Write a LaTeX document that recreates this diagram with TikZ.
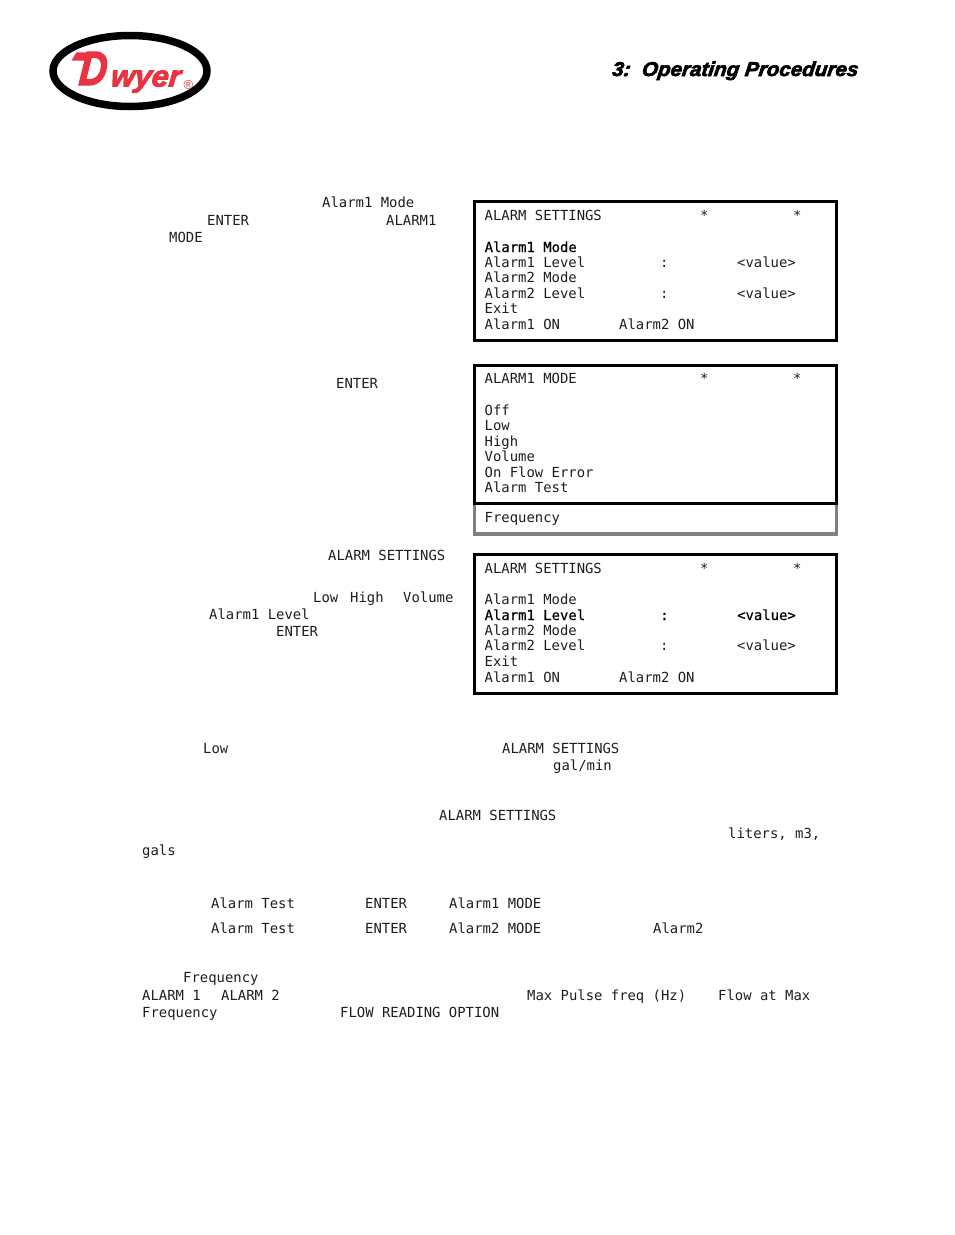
\documentclass[tikz,border=0pt]{standalone}
\usepackage{fontspec}
\setmainfont{Liberation Sans}
\setmonofont{DejaVu Sans Mono}
\newfontfamily\heavyfont[BoldItalicFeatures={FakeBold=3}]{Liberation Sans}
\newfontfamily\lcdheavy[FakeBold=0.5]{DejaVu Sans Mono}
\definecolor{dwyerred}{RGB}{232,52,66}
\definecolor{panelgrey}{RGB}{128,128,128}
\definecolor{lcdink}{RGB}{30,30,30}
\tikzset{
    lcd/.style={anchor=base west, inner sep=0pt, text=lcdink, font=\fontsize{13.9}{15}\selectfont\ttfamily},
    lcdbold/.style={lcd, text=black, font=\fontsize{13.9}{15}\selectfont\lcdheavy},
    panel/.style={draw=black, line width=3.5pt},
    logotext/.style={anchor=base west, inner sep=0pt, text=dwyerred, font=\heavyfont\bfseries\itshape}
}

\begin{document}
\begin{tikzpicture}[x=1pt, y=-1pt]
    \useasboundingbox (0, 0) rectangle (954, 1235);

    % logo and page heading
    \draw[black, line width=7.5pt] (130, 71) ellipse [x radius=77, y radius=35.5];
    \fill[dwyerred] (76.5, 52.3) -- (94, 52.3) -- (90, 60.5) -- (71.5, 60.5) -- cycle;
    \node[logotext, xscale=0.8, xslant=0.12] (logoD) at (78, 85)
        {\fontsize{48}{48}\selectfont D};
    \node[logotext, xscale=1.02, xslant=0.1] (logoWyer) at (110, 86.5)
        {\fontsize{30}{30}\selectfont wyer};
    \node[anchor=center, inner sep=0pt, text=dwyerred, font=\fontsize{13}{13}\selectfont] (logoReg) at (188.5, 85) {®};
    \node[anchor=base east, inner sep=0pt, xscale=1.03, xslant=0.12, font=\fontsize{20}{20}\selectfont\heavyfont\bfseries\itshape] (heading)
        at (858, 76) {3:\ \ Operating Procedures};

    % first screen
    \draw[panel] (474.5, 201.5) rectangle (836.5, 340.5);
    \node[lcd] (aTitle) at (484.5, 220) {ALARM SETTINGS};
    \node[lcd] (aStarA) at (700, 220) {*};
    \node[lcd] (aStarB) at (793, 220) {*};
    \node[lcdbold] (aModeA) at (484.5, 252) {Alarm1 Mode};
    \node[lcd] (aLevelA) at (484.5, 267) {Alarm1 Level};
    \node[lcd] (aColonA) at (660, 267) {:};
    \node[lcd] (aValueA) at (737, 267) {<value>};
    \node[lcd] (aModeB) at (484.5, 282) {Alarm2 Mode};
    \node[lcd] (aLevelB) at (484.5, 298) {Alarm2 Level};
    \node[lcd] (aColonB) at (660, 298) {:};
    \node[lcd] (aValueB) at (737, 298) {<value>};
    \node[lcd] (aExit) at (484.5, 313) {Exit};
    \node[lcd] (aOnA) at (484.5, 329) {Alarm1 ON};
    \node[lcd] (aOnB) at (619, 329) {Alarm2 ON};

    % second screen with the pop-up row below it
    \draw[panelgrey, line width=3.5pt] (474.5, 503) -- (474.5, 534) -- (836.5, 534) -- (836.5, 503);
    \draw[panel] (474.5, 365.5) rectangle (836.5, 503.5);
    \node[lcd] (bTitle) at (484.5, 383) {ALARM1 MODE};
    \node[lcd] (bStarA) at (700, 383) {*};
    \node[lcd] (bStarB) at (793, 383) {*};
    \node[lcd] (bOff) at (484.5, 415) {Off};
    \node[lcd] (bLow) at (484.5, 430) {Low};
    \node[lcd] (bHigh) at (484.5, 446) {High};
    \node[lcd] (bVolume) at (484.5, 461) {Volume};
    \node[lcd] (bFlow) at (484.5, 477) {On Flow Error};
    \node[lcd] (bTest) at (484.5, 492) {Alarm Test};
    \node[lcd] (bFreq) at (484.5, 522) {Frequency};

    % third screen
    \draw[panel] (474.5, 554.5) rectangle (836.5, 693.3);
    \node[lcd] (cTitle) at (484.5, 573) {ALARM SETTINGS};
    \node[lcd] (cStarA) at (700, 573) {*};
    \node[lcd] (cStarB) at (793, 573) {*};
    \node[lcd] (cModeA) at (484.5, 604) {Alarm1 Mode};
    \node[lcdbold] (cLevelA) at (484.5, 620) {Alarm1 Level};
    \node[lcdbold] (cColonA) at (660, 620) {:};
    \node[lcdbold] (cValueA) at (737, 620) {<value>};
    \node[lcd] (cModeB) at (484.5, 635) {Alarm2 Mode};
    \node[lcd] (cLevelB) at (484.5, 650) {Alarm2 Level};
    \node[lcd] (cColonB) at (660, 650) {:};
    \node[lcd] (cValueB) at (737, 650) {<value>};
    \node[lcd] (cExit) at (484.5, 666) {Exit};
    \node[lcd] (cOnA) at (484.5, 682) {Alarm1 ON};
    \node[lcd] (cOnB) at (619, 682) {Alarm2 ON};

    % words left in the body text
    \node[lcd] (tModeA) at (322, 207) {Alarm1 Mode};
    \node[lcd] (tEnterA) at (207, 225) {ENTER};
    \node[lcd] (tAlarmA) at (386, 225) {ALARM1};
    \node[lcd] (tMode) at (169, 242) {MODE};
    \node[lcd] (tEnterB) at (336, 388) {ENTER};
    \node[lcd] (tSettingsA) at (328, 560) {ALARM SETTINGS};
    \node[lcd] (tLow) at (313, 602) {Low};
    \node[lcd] (tHigh) at (350, 602) {High};
    \node[lcd] (tVolume) at (403, 602) {Volume};
    \node[lcd] (tLevelA) at (209, 619) {Alarm1 Level};
    \node[lcd] (tEnterC) at (276, 636) {ENTER};
    \node[lcd] (tLowB) at (203, 753) {Low};
    \node[lcd] (tSettingsB) at (502, 753) {ALARM SETTINGS};
    \node[lcd] (tGal) at (553, 770) {gal/min};
    \node[lcd] (tSettingsC) at (439, 820) {ALARM SETTINGS};
    \node[lcd] (tLiters) at (728, 838) {liters, m3,};
    \node[lcd] (tGals) at (142, 855) {gals};
    \node[lcd] (tTestA) at (211, 908) {Alarm Test};
    \node[lcd] (tEnterD) at (365, 908) {ENTER};
    \node[lcd] (tModeB) at (449, 908) {Alarm1 MODE};
    \node[lcd] (tTestB) at (211, 933) {Alarm Test};
    \node[lcd] (tEnterE) at (365, 933) {ENTER};
    \node[lcd] (tModeC) at (449, 933) {Alarm2 MODE};
    \node[lcd] (tAlarmB) at (653, 933) {Alarm2};
    \node[lcd] (tFreqA) at (183, 982) {Frequency};
    \node[lcd] (tAlarmC) at (142, 1000) {ALARM 1};
    \node[lcd] (tAlarmD) at (221, 1000) {ALARM 2};
    \node[lcd] (tPulse) at (527, 1000) {Max Pulse freq (Hz)};
    \node[lcd] (tFlow) at (718, 1000) {Flow at Max};
    \node[lcd] (tFreqB) at (142, 1017) {Frequency};
    \node[lcd] (tReading) at (340, 1017) {FLOW READING OPTION};
\end{tikzpicture}
\end{document}
